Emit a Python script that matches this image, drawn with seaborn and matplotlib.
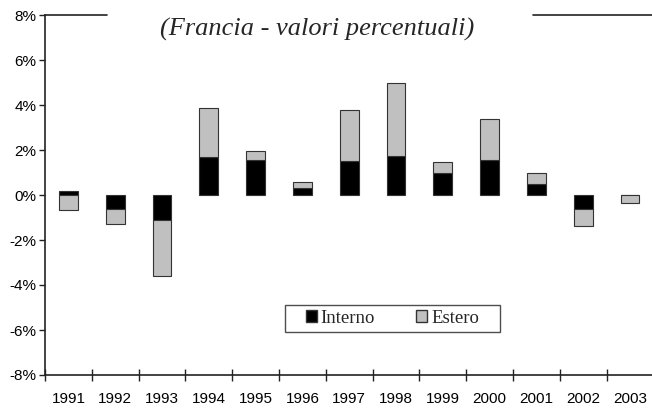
import pandas as pd
import matplotlib.pyplot as plt
import seaborn as sns
import numpy as np
from matplotlib.patches import Patch
from matplotlib.path import Path

# Data (percent)
anni = ["1991", "1992", "1993", "1994", "1995", "1996", "1997",
        "1998", "1999", "2000", "2001", "2002", "2003"]
interno = [0.17, -0.64, -1.13, 1.67, 1.56, 0.30, 1.52, 1.73, 0.99, 1.56, 0.49, -0.62, 0.0]
estero = [-0.68, -0.66, -2.48, 2.20, 0.38, 0.29, 2.24, 3.26, 0.49, 1.82, 0.49, -0.74, -0.37]

df = pd.DataFrame({"anno": anni, "Interno": interno, "Estero": estero})

sns.set_theme(style="white")
plt.rcParams["font.family"] = ["Liberation Sans", "DejaVu Sans"]

fig = plt.figure(figsize=(6.52, 4.09), dpi=100)
ax = fig.add_axes([45 / 652, 34 / 409, 608.4 / 652, 360 / 409])

GREY = "#c0c0c0"
EDGE = "#333333"

# Interno (black) bars
sns.barplot(data=df, x="anno", y="Interno", color="black", width=0.4,
            edgecolor=EDGE, linewidth=0.8, saturation=1, ax=ax, zorder=3)

# Estero stacked on Interno when same sign, else from zero
pos = np.arange(len(df))
bottom = np.where(np.sign(df["Interno"]) == np.sign(df["Estero"]), df["Interno"], 0)
ax.bar(pos, df["Estero"], bottom=bottom, width=0.4, color=GREY,
       edgecolor=EDGE, linewidth=0.8, zorder=3)

ax.set_ylim(-8, 8)
ax.set_xlim(-0.5, len(df) - 0.5)
yt = np.arange(-8, 9, 2)
ax.set_yticks(yt)
ax.set_yticklabels([f"{v:.0f}%" for v in yt], fontsize=11)
ax.set_xticks(pos)
ax.set_xticklabels(anni, fontsize=11)
ax.set_xlabel("")
ax.set_ylabel("")

# category boundary ticks crossing the x axis
ax.set_xticks(np.arange(-0.5, len(df), 1), minor=True)
ax.tick_params(axis="x", which="major", length=0, pad=12, colors="black")
ax.tick_params(axis="x", which="minor", direction="inout", length=9,
               width=1, color="#222222", bottom=True)
ax.tick_params(axis="y", which="major", direction="out", length=4,
               width=1, color="#222222", left=True, pad=2, labelcolor="black")

for s in ["top", "right"]:
    ax.spines[s].set_visible(False)
for s in ["left", "bottom"]:
    ax.spines[s].set_color("#222222")
    ax.spines[s].set_linewidth(1.2)

# top frame line interrupted by the title
ax.axhline(8, xmin=0, xmax=(107 - 45) / 608.4, color="#222222", lw=1.2, clip_on=False)
ax.axhline(8, xmin=(533 - 45) / 608.4, xmax=1, color="#222222", lw=1.2, clip_on=False)

ax.text(0.447, 0.961, "(Francia - valori percentuali)", transform=ax.transAxes,
        ha="center", va="center", fontsize=19, style="italic",
        family=["Liberation Serif", "DejaVu Serif"])

handles = [Patch(facecolor="black", edgecolor=EDGE, label="Interno"),
           Patch(facecolor=GREY, edgecolor=EDGE, label="Estero")]
leg = ax.legend(handles=handles, ncol=2, loc="center",
                bbox_to_anchor=(0.571, 0.157), frameon=True, fancybox=False,
                handlelength=0.59, handleheight=0.59, handletextpad=0.21,
                columnspacing=2.2, borderpad=0.25,
                prop={"family": ["Liberation Serif"], "size": 13.5})


# wider frame horizontally than vertically
def wide_box(x0, y0, width, height, mutation_size):
    dx = 0.85 * mutation_size
    x0, x1 = x0 - dx, x0 + width + dx
    y1 = y0 + height
    return Path([(x0, y0), (x1, y0), (x1, y1), (x0, y1), (x0, y0)], closed=True)


leg.get_frame().set_boxstyle(wide_box)
leg.get_frame().set_edgecolor("#222222")
leg.get_frame().set_linewidth(1.0)

fig.savefig("out.png", dpi=100)
